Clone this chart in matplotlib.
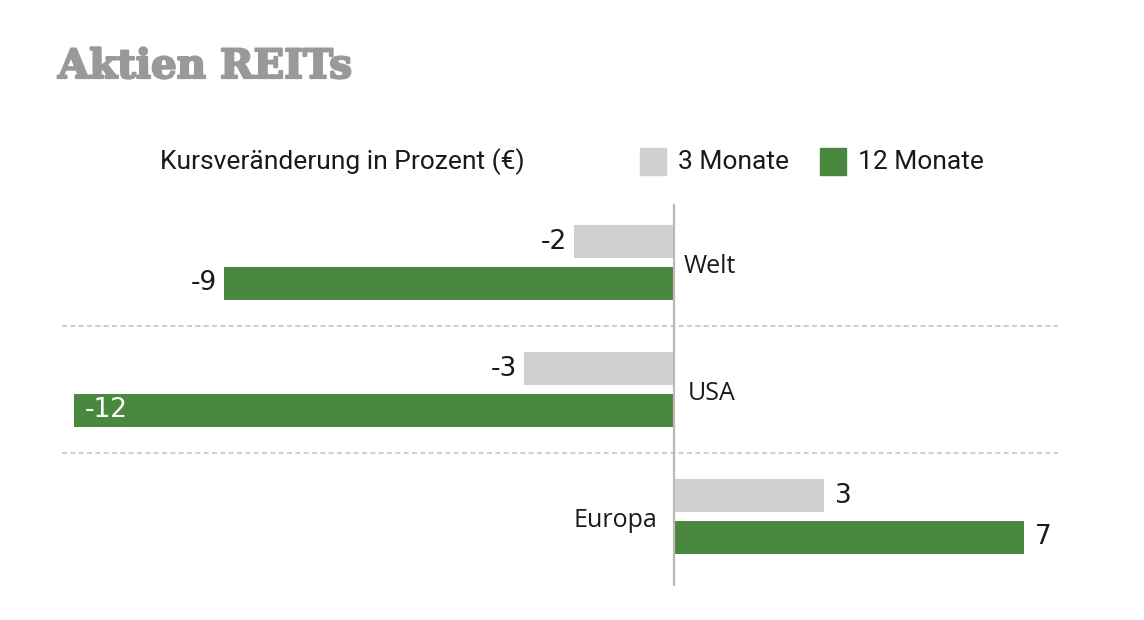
import matplotlib
matplotlib.use('Agg')
import matplotlib.pyplot as plt
import matplotlib.patheffects as pe
from matplotlib.patches import Rectangle

# data
regions = ['Welt', 'USA', 'Europa']
months_3 = [-2, -3, 3]
months_12 = [-9, -12, 7]
series_labels = ['3 Monate', '12 Monate']

gray = '#d0d0d0'
green = '#4b883f'
narrow = ['Liberation Sans Narrow', 'Roboto', 'DejaVu Sans']
label_font = ['Open Sans', 'DejaVu Sans']

W, H = 1144, 620
fig = plt.figure(figsize=(W / 100, H / 100), dpi=100)
ax = fig.add_axes([0, 0, 1, 1])
ax.set_xlim(-674 / 50, (W - 674) / 50)
ax.set_ylim((H - 262.5) / 127, -262.5 / 127)
ax.axis('off')

off = 0.165
h = 0.26
ypos = list(range(len(regions)))
ax.barh([y - off for y in ypos], months_3, height=h, color=gray, zorder=2)
ax.barh([y + off for y in ypos], months_12, height=h, color=green, zorder=2)

# zero line and dashed separators
ax.plot([0, 0], [-0.455, 2.54], color='#bfb7b7', lw=1.6, zorder=3)
for y in ypos[:-1]:
    ax.plot([-12.24, 7.68], [y + 0.5, y + 0.5], color='#c9c3c3', lw=1.2,
            ls=(0, (3, 2)), zorder=1)

# value labels
for i, (a, b) in enumerate(zip(months_3, months_12)):
    for v, y in ((a, i - off), (b, i + off)):
        if v == min(months_12):
            ax.text(v + 0.22, y, str(v), ha='left', va='center', color='white',
                    fontsize=19, family='DejaVu Sans', zorder=4)
        elif v < 0:
            ax.text(v - 0.15, y, str(v), ha='right', va='center', color='#1a1a1a',
                    fontsize=19, family='DejaVu Sans', zorder=4)
        else:
            ax.text(v + 0.22, y, str(v), ha='left', va='center', color='#1a1a1a',
                    fontsize=19, family='DejaVu Sans', zorder=4)

# region labels
label_x = {'Welt': 0.2, 'USA': 0.28}
for i, name in enumerate(regions):
    if months_12[i] < 0:
        ax.text(label_x[name], i + 0.03, name, ha='left', va='center', fontsize=18,
                family=label_font, color='#1a1a1a')
    else:
        ax.text(-0.34, i + 0.03, name, ha='right', va='center', fontsize=18,
                family=label_font, color='#1a1a1a')

# title and subtitle
fig.text(58 / W, 1 - 78 / H, 'Aktien REITs', fontsize=29, fontweight='bold',
         family='DejaVu Serif', color='#999999', va='baseline',
         path_effects=[pe.withStroke(linewidth=1.6, foreground='#999999')])
fig.text(160 / W, 1 - 162 / H, 'Kursveränderung in Prozent (€)', fontsize=19,
         family=narrow, color='#1a1a1a', va='center')

# legend
for x0, c, lab in ((640, gray, series_labels[0]), (820, green, series_labels[1])):
    fig.patches.append(Rectangle((x0 / W, 1 - 175 / H), 26 / W, 27 / H,
                                 transform=fig.transFigure, color=c))
    fig.text((x0 + 38) / W, 1 - 162 / H, lab, fontsize=19, family=narrow,
             color='#1a1a1a', va='center')

fig.savefig('out.png', dpi=100)
